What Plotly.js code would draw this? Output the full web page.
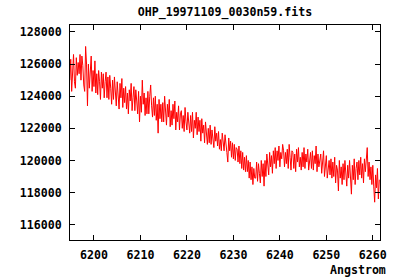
<!DOCTYPE html>
<html>
<head>
<meta charset="utf-8">
<script src="https://cdn.plot.ly/plotly-3.0.1.min.js"></script>
<style>html,body{margin:0;padding:0;background:#fff;}#chart{width:400px;height:280px;}</style>
</head>
<body>
<div id="chart"></div>
<script>
// Spectrum sampling (FITS-style start wavelength and step, Angstrom)
const crval1 = 6194.8;
const cdelt1 = 0.2;
const chartTitle = "OHP_19971109_0030n59.fits";
const xAxisLabel = "Angstrom";

// Flux values
const flux = [
  125000,126300,124300,125900,126600,124900,124500,126400,125300,126100,
  125400,126600,125000,126500,125900,124700,124300,127100,126000,123400,
  126000,124500,125700,126500,124300,125600,124600,126200,124200,125400,
  124100,125600,124900,123800,125500,124500,125400,123900,124900,125500,
  123900,125200,123800,125300,124500,123500,125000,123800,125200,124100,
  123400,124900,124000,123200,124800,123900,125100,123300,124500,123600,
  124600,123200,124200,122900,124400,123700,124800,123100,123900,124600,
  123100,124400,123700,122900,124300,122400,124000,123000,125000,123500,
  124200,122800,123900,122900,124300,122900,124000,124700,123400,122700,
  123900,122800,124000,122500,123500,121700,123800,122600,123500,122400,
  123600,122400,124000,123000,122200,123500,122700,123800,122100,123100,
  122200,123500,122600,123700,121900,123000,122400,123400,121900,122900,
  123100,122000,122800,121800,123300,122400,121900,123000,122200,121700,
  122800,121800,123000,121400,122500,122000,123000,121600,122700,121800,
  122500,121200,122600,121700,122200,121100,122400,121400,121000,122000,
  121100,122200,121000,121900,121400,120800,122100,121200,121700,120900,
  121800,120700,121300,120600,121700,121000,120600,121600,120800,120500,
  119900,121400,120600,121200,120200,121100,120100,121000,120000,120800,
  120700,119900,120900,119800,120600,119500,120500,119400,120200,119300,
  120300,119300,120000,118900,119900,118800,119600,118500,119500,118900,
  118900,119900,118700,119800,119200,118600,120000,119000,119800,118400,
  120000,119000,120400,119400,119100,120500,119600,120300,119200,120600,
  119800,120800,119500,120600,120000,120900,119600,120500,120100,121000,
  120600,119600,120500,119800,120700,119500,121000,120200,119400,120600,
  120500,119500,120400,119300,120700,119900,120800,119600,120200,119400,
  120500,119600,120800,119500,120400,119900,120700,119400,120200,120500,
  119500,120600,119400,120300,119800,120900,119300,120400,119600,120100,
  120400,119200,119900,120600,119000,119700,120300,118900,119600,120000,
  119100,120100,118900,119900,119000,120200,118600,119700,119400,118100,
  120000,118900,119600,118500,119800,118800,120000,119100,118400,119700,
  118900,120000,118700,117900,119700,118800,120100,118500,119500,119900,
  118800,120000,119100,120200,118900,119800,118600,120100,119300,120000,
  120800,119000,119900,118800,119600,118500,119700,118400,117400,119100,
  118300,119500,117600,118800
];
const wavelength = flux.map((_, i) => crval1 + i * cdelt1);

const xTicks = [6200, 6210, 6220, 6230, 6240, 6250, 6260];
const yTicks = [116000, 118000, 120000, 122000, 124000, 126000, 128000];

const monoFont = {family: "'DejaVu Sans Mono', 'Liberation Mono', monospace", size: 11.6, color: '#000', weight: 'bold'};

const trace = {
  x: wavelength, y: flux, type: 'scatter', mode: 'lines',
  line: {color: '#ff0000', width: 1}, hoverinfo: 'skip'
};

const axisCommon = {
  showline: true, linecolor: '#000', linewidth: 1, mirror: 'ticks',
  ticks: 'inside', ticklen: 5, tickwidth: 1, tickcolor: '#000',
  showgrid: false, zeroline: false, tickfont: monoFont, tickmode: 'array'
};

const layout = {
  width: 400, height: 280,
  margin: {l: 69.5, r: 20.3, t: 25, b: 39.7, pad: 0},
  paper_bgcolor: '#fff', plot_bgcolor: '#fff',
  showlegend: false,
  font: monoFont,
  title: {text: chartTitle, font: monoFont, x: 0.5, xref: 'paper', y: 1 - 12/280, yref: 'container', xanchor: 'center', yanchor: 'middle'},
  xaxis: Object.assign({}, axisCommon, {range: [6194.84, 6261.55], tickvals: xTicks, ticktext: xTicks.map(String), ticklabelstandoff: 4}),
  yaxis: Object.assign({}, axisCommon, {range: [115046, 128435], tickvals: yTicks, ticktext: yTicks.map(String), ticklabelstandoff: 5}),
  annotations: [{
    text: xAxisLabel, xref: 'paper', yref: 'paper', x: 1.027, y: -0.141,
    xanchor: 'right', yanchor: 'middle', showarrow: false, font: monoFont
  }]
};

Plotly.newPlot('chart', [trace], layout, {staticPlot: true, displayModeBar: false});
</script>
</body>
</html>
